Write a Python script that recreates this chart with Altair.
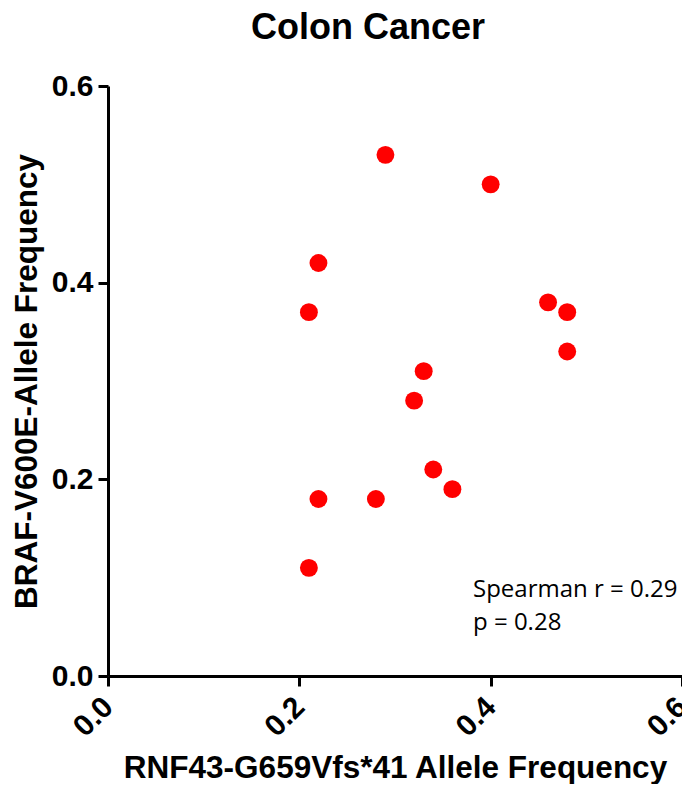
import altair as alt
import pandas as pd

rnf43 = [0.29, 0.40, 0.22, 0.21, 0.46, 0.48, 0.48, 0.33, 0.32, 0.34, 0.36, 0.22, 0.28, 0.21]
braf = [0.53, 0.50, 0.42, 0.37, 0.38, 0.37, 0.33, 0.31, 0.28, 0.21, 0.19, 0.18, 0.18, 0.11]
tick_values = [0.0, 0.2, 0.4, 0.6]
annotation = ["Spearman r = 0.29", "p = 0.28"]

df = pd.DataFrame({"rnf43": rnf43, "braf": braf})

points = alt.Chart(df).mark_circle(size=320, color="#FF0000", opacity=1).encode(
    x=alt.X(
        "rnf43:Q",
        scale=alt.Scale(domain=[0, 0.6], nice=False, zero=True),
        axis=alt.Axis(
            title="RNF43-G659Vfs*41 Allele Frequency",
            values=tick_values,
            format=".1f",
            labelAngle=-45,
            labelAlign="right",
            labelBaseline="middle",
            labelPadding=16,
            titlePadding=10,
        ),
    ),
    y=alt.Y(
        "braf:Q",
        scale=alt.Scale(domain=[0, 0.6], nice=False, zero=True),
        axis=alt.Axis(
            title="BRAF-V600E-Allele Frequency",
            values=tick_values,
            format=".1f",
            labelPadding=5,
            titlePadding=8,
        ),
    ),
)

text_df = pd.DataFrame({"t": ["\n".join(annotation)]})
note = alt.Chart(text_df).mark_text(
    font="Open Sans",
    fontSize=24,
    align="left",
    baseline="alphabetic",
    lineBreak="\n",
    lineHeight=33,
    color="black",
).encode(text="t:N", x=alt.value(365), y=alt.value(511))

chart = (
    alt.layer(points, note)
    .properties(
        width=574,
        height=590,
        title=alt.TitleParams(
            "Colon Cancer",
            font="Liberation Sans",
            fontSize=36,
            fontWeight="bold",
            color="black",
            anchor="middle",
            dx=-27,
            offset=24,
        ),
        autosize=alt.AutoSizeParams(type="none"),
        padding={"left": 100, "top": 78, "right": 0, "bottom": 108},
    )
    .configure_view(stroke=None)
    .configure_axis(
        grid=False,
        domainColor="black",
        domainWidth=3,
        tickColor="black",
        tickWidth=3,
        tickSize=10,
        labelFont="Liberation Sans",
        labelFontSize=30,
        labelFontWeight="bold",
        labelColor="black",
        titleFont="Liberation Sans",
        titleFontSize=31.5,
        titleFontWeight="bold",
        titleColor="black",
        labelOverlap=False,
        labelFlush=False,
    )
)

chart.save("out.html", embed_options={"renderer": "svg", "actions": False})
